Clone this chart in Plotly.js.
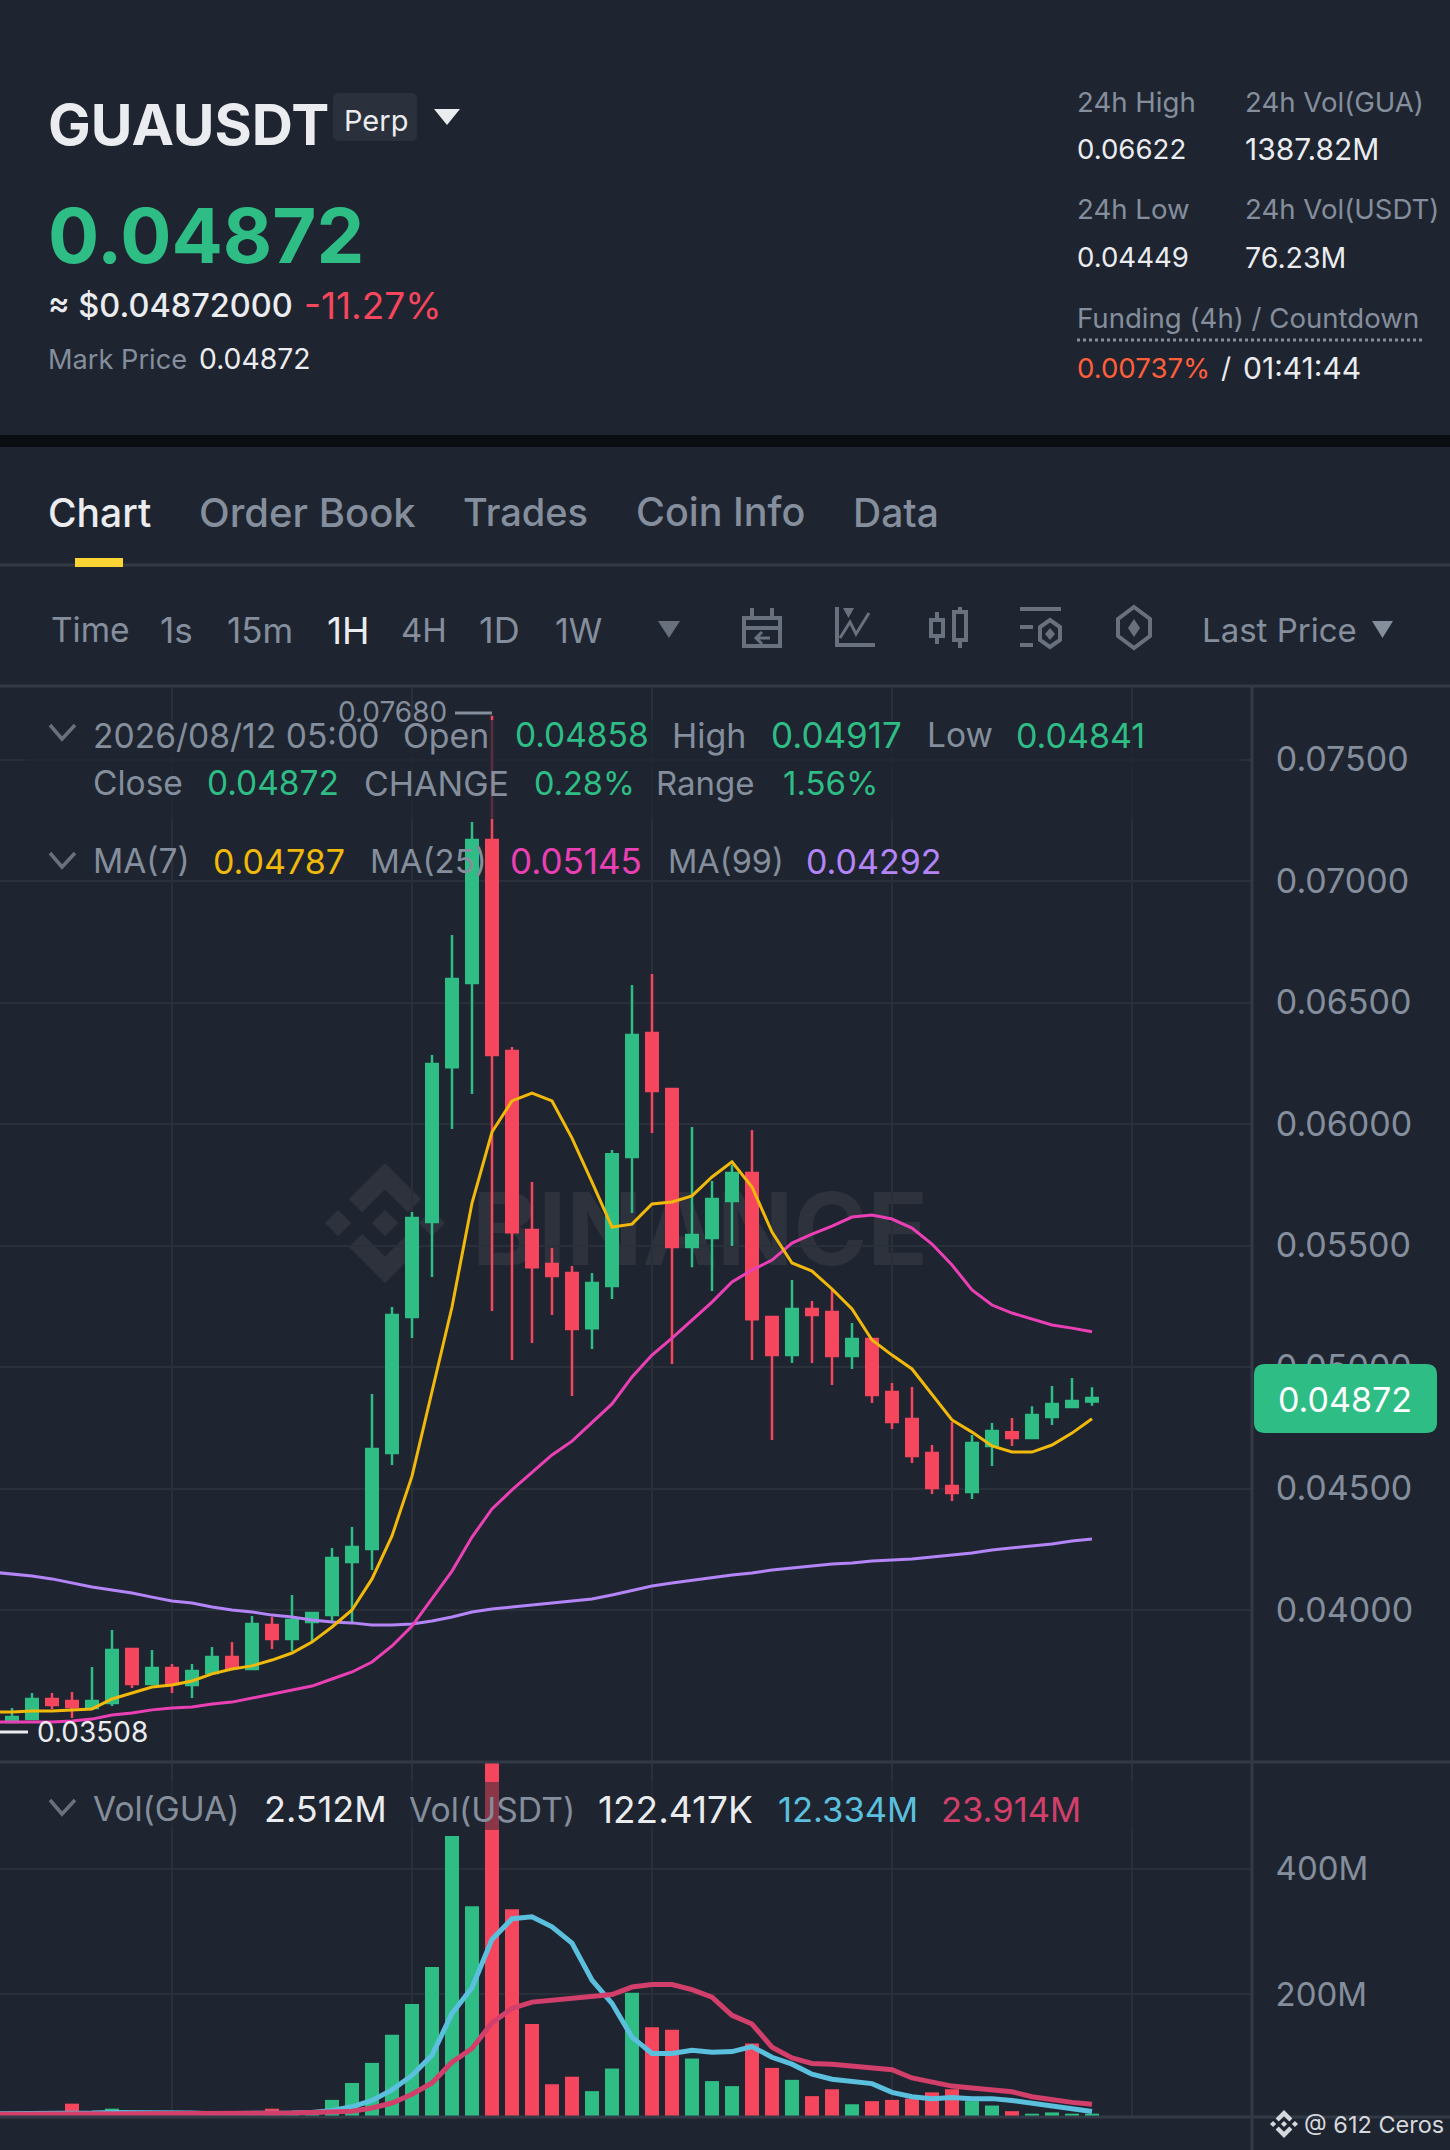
<!DOCTYPE html>
<html>
<head>
<meta charset="utf-8">
<script src="https://cdn.plot.ly/plotly-3.0.1.min.js"></script>
<style>html,body{margin:0;padding:0;background:#1f2530}#chart{width:1450px;height:2150px}</style>
</head>
<body>
<div id="chart"></div>
<script>
// ---------- DATA ----------
const candleIndex = [-1,0,1,2,3,4,5,6,7,8,9,10,11,12,13,14,15,16,17,18,19,20,21,22,23,24,25,26,27,28,29,30,31,32,33,34,35,36,37,38,39,40,41,42,43,44,45,46,47,48,49,50,51,52,53,54];
const openPrice = [.03540,.03539,.03551,.03634,.03626,.03597,.03617,.03840,.03695,.03761,.03691,.03741,.03807,.03757,.03938,.03881,.03951,.03979,.04198,.04251,.04646,.05206,.05597,.06234,.06580,.07169,.06300,.05564,.05424,.05387,.05160,.05333,.05864,.06374,.06144,.05494,.05531,.05683,.05798,.05206,.05049,.05239,.05226,.05045,.05115,.04897,.04786,.04646,.04510,.04486,.04675,.04732,.04708,.04794,.04835,.04858];
const closePrice = [.03545,.03560,.03634,.03609,.03601,.03626,.03835,.03695,.03761,.03695,.03749,.03807,.03761,.03942,.03881,.03959,.03988,.04214,.04259,.04663,.05214,.05613,.06247,.06597,.07169,.06284,.05555,.05411,.05374,.05156,.05346,.05876,.06366,.06136,.05494,.05543,.05691,.05798,.05197,.05049,.05239,.05214,.05045,.05115,.04885,.04774,.04634,.04502,.04481,.04687,.04737,.04708,.04802,.04848,.04860,.04872];
const highPrice = [.03570,.03597,.03658,.03658,.03663,.03765,.03918,.03844,.03835,.03778,.03778,.03848,.03868,.03975,.03971,.04062,.03992,.04255,.04342,.04889,.05247,.05638,.06284,.06778,.07243,.07680,.06317,.05761,.05490,.05416,.05387,.05893,.06572,.06617,.06144,.05988,.05765,.05831,.05975,.05206,.05358,.05272,.05317,.05181,.05115,.04934,.04918,.04679,.04774,.04720,.04770,.04790,.04839,.04922,.04955,.04917];
const lowPrice = [.03508,.03535,.03547,.03593,.03556,.03597,.03605,.03679,.03695,.03658,.03638,.03741,.03757,.03757,.03840,.03831,.03868,.03951,.03951,.04165,.04597,.05119,.05370,.05979,.06123,.05230,.05029,.05099,.05214,.04881,.05074,.05280,.05634,.05963,.05012,.05411,.05313,.05498,.05029,.04700,.05016,.05016,.04926,.04992,.04852,.04745,.04605,.04477,.04449,.04457,.04593,.04675,.04708,.04761,.04831,.04841];
const ma7 = [.03580,.03580,.03584,.03584,.03589,.03593,.03634,.03658,.03683,.03691,.03708,.03737,.03757,.03770,.03794,.03823,.03868,.03930,.04000,.04128,.04305,.04551,.04897,.05247,.05675,.05967,.06095,.06127,.06095,.05942,.05761,.05576,.05588,.05671,.05679,.05704,.05782,.05844,.05741,.05555,.05428,.05395,.05321,.05239,.05111,.05049,.04992,.04885,.04782,.04732,.04675,.04650,.04650,.04679,.04728,.04787];
const ma25 = [.03539,.03539,.03539,.03539,.03543,.03551,.03568,.03576,.03589,.03597,.03601,.03613,.03621,.03638,.03654,.03671,.03687,.03716,.03745,.03786,.03852,.03934,.04045,.04160,.04300,.04416,.04494,.04564,.04638,.04695,.04770,.04848,.04959,.05049,.05119,.05193,.05267,.05350,.05399,.05440,.05510,.05547,.05580,.05617,.05625,.05609,.05572,.05506,.05420,.05317,.05255,.05222,.05197,.05173,.05160,.05145];
const ma99 = [.04156,.04148,.04140,.04128,.04111,.04095,.04082,.04070,.04053,.04037,.04029,.04012,.04000,.03992,.03979,.03971,.03959,.03951,.03947,.03938,.03938,.03942,.03955,.03971,.03992,.04004,.04012,.04021,.04029,.04037,.04045,.04062,.04082,.04099,.04111,.04123,.04132,.04144,.04152,.04165,.04173,.04181,.04189,.04193,.04202,.04206,.04210,.04218,.04226,.04235,.04247,.04255,.04263,.04272,.04284,.04292];
const volumeM = [6,6,6,6,25,8,17,9,7,7,6,6,8,8,17,10,10,31,58,90,135,184,243,452,340,574,335,152,56,68,45,81,202,147,143,97,61,53,121,82,63,37,48,24,29,31,33,43,48,29,22,13,9,11,9,9];
const volMaBlueM = [9,9,9,9,10,10,11,11,10,10,10,9,9,10,10,10,11,14,20,30,47,70,102,169,210,287,320,323,307,281,222,185,131,105,105,110,107,108,116,99,88,72,64,60,57,43,36,33,35,33,33,30,26,22,18,12.334];
const volMaRedM = [8,8,8,8,9,9,9,9,9,9,8,8,8,8,9,10,11,12,13,18,26,40,58,91,113,154,177,187,190,194,196,199,211,215,215,207,195,166,152,115,98,89,88,85,83,79,66,60,53,50,47,44,36,31,27,23.914];
const priceTicks = [.04,.045,.05,.055,.06,.065,.07,.075];
const priceTickLabels = ['0.04000','0.04500','0.05000','0.05500','0.06000','0.06500','0.07000','0.07500'];
const volumeTicks = [200,400];
const volumeTickLabels = ['200M','400M'];

// ---------- STYLE ----------
const BG='#1f2530', GRID='#2a303a', SEP='#333a47', GREY='#848e9c', WHITE='#eaecef', GREEN='#2ebd85', RED='#f6465d', ICON='#69717e';
const FONT='Inter, "Noto Sans", sans-serif';
const W=1450,H=2150;
const fx=x=>x/W, fy=y=>1-y/H;
// convert a path written in page pixels to paper coordinates
const pp=s=>{let i=0;return s.replace(/-?\d+(\.\d+)?/g,n=>{const v=parseFloat(n);return (i++%2===0?fx(v):fy(v)).toFixed(6);});};
const annotations=[],shapes=[];
function T(text,x,y,size,color,opt={}){
  annotations.push({text,xref:'paper',yref:'paper',x:fx(x),y:fy(y),xanchor:opt.anchor||'left',yanchor:'middle',showarrow:false,
    font:{family:FONT,size,color,weight:opt.weight||400},borderpad:0,borderwidth:0});
}
function fillPath(d,color,layer='above'){shapes.push({type:'path',xref:'paper',yref:'paper',path:pp(d),fillcolor:color,line:{width:0},layer});}
function strokePath(d,color,w=4,fill='rgba(0,0,0,0)'){shapes.push({type:'path',xref:'paper',yref:'paper',path:pp(d),fillcolor:fill,line:{color,width:w},layer:'above'});}
function hline(y,x0=0,x1=W,color=SEP,w=3,dash='solid'){shapes.push({type:'line',xref:'paper',yref:'paper',x0:fx(x0),x1:fx(x1),y0:fy(y),y1:fy(y),line:{color,width:w,dash},layer:'above'});}
function rrect(x0,y0,x1,y1,r){return `M ${x0+r} ${y0} L ${x1-r} ${y0} Q ${x1} ${y0} ${x1} ${y0+r} L ${x1} ${y1-r} Q ${x1} ${y1} ${x1-r} ${y1} L ${x0+r} ${y1} Q ${x0} ${y1} ${x0} ${y1-r} L ${x0} ${y0+r} Q ${x0} ${y0} ${x0+r} ${y0} Z`;}
function tri(x0,x1,y0,y1,color){fillPath(`M ${x0} ${y0} L ${x1} ${y0} L ${(x0+x1)/2} ${y1} Z`,color);}
function rect(x0,y0,x1,y1,color,layer='above'){shapes.push({type:'rect',xref:'paper',yref:'paper',x0:fx(x0),x1:fx(x1),y0:fy(y0),y1:fy(y1),fillcolor:color,line:{width:0},layer});}
function logo(cx,cy,s,color,layer){
  const d=(x,y,r)=>fillPath(`M ${cx+x*s} ${cy+(y-r)*s} L ${cx+(x+r)*s} ${cy+y*s} L ${cx+x*s} ${cy+(y+r)*s} L ${cx+(x-r)*s} ${cy+y*s} Z`,color,layer);
  d(0,0,.22);d(-.78,0,.22);d(.78,0,.22);
  const chev=(sgn)=>fillPath(`M ${cx} ${cy+sgn*1*s} L ${cx+.6*s} ${cy+sgn*.4*s} L ${cx+.38*s} ${cy+sgn*.18*s} L ${cx} ${cy+sgn*.56*s} L ${cx-.38*s} ${cy+sgn*.18*s} L ${cx-.6*s} ${cy+sgn*.4*s} Z`,color,layer);
  chev(-1);chev(1);
}

// ---------- PANELS / CHROME ----------
rect(0,435,W,447,'#0b0e11');
hline(565);hline(686);hline(1762);hline(2117);
rect(75,558,123,567,'#fcd535');
shapes.push({type:'line',xref:'paper',yref:'paper',x0:fx(1252),x1:fx(1252),y0:fy(686),y1:fy(2150),line:{color:SEP,width:3},layer:'above'});

// watermark (under the candles)
logo(385,1223,60,'#2d323d','below');
shapes.push({type:'rect',xref:'paper',yref:'paper',x0:fx(470),x1:fx(930),y0:fy(1190),y1:fy(1260),fillcolor:'rgba(0,0,0,0)',line:{width:0},layer:'below',
  label:{text:'BINANCE',textposition:'middle center',font:{family:FONT,size:100,color:'#2d323d',weight:700}}});

// legend veils (candles show dimmed behind them)
rect(25,720,1240,819,'rgba(31,37,48,0.72)');
rect(25,1782,1240,1830,'rgba(31,37,48,0.5)');

// header
T('GUAUSDT',48,124,57,WHITE,{weight:700});
fillPath(rrect(333,93,417,141,6),'#2a303c');
T('Perp',344,120,29,WHITE);
tri(434,460,109,125,WHITE);
T('0.04872',48,235,76,GREEN,{weight:700});
T('≈ $0.04872000',48,306,32.5,WHITE,{weight:500});
T('-11.27%',304,306,37,RED);
T('Mark Price',48,359,27.2,GREY);
T('0.04872',199,359,28.3,WHITE);
T('24h High',1077,102,27.6,GREY);T('0.06622',1077,149,27.6,WHITE);
T('24h Low',1077,209,27.6,GREY);T('0.04449',1077,257,27.6,WHITE);
T('24h Vol(GUA)',1245,102,27.6,GREY);T('1387.82M',1245,149,30,WHITE);
T('24h Vol(USDT)',1245,209,27.6,GREY);T('76.23M',1245,257,28.5,WHITE);
T('Funding (4h) / Countdown',1077,318,27.6,GREY);
hline(340,1077,1423,GREY,3,'dot');
T('0.00737%',1077,368,27.6,'#ff5e3a');T('/',1221,368,28,WHITE);T('01:41:44',1243,368,30,WHITE);

// tabs
[['Chart',48,WHITE,39],['Order Book',199,GREY,40],['Trades',463,GREY,38],['Coin Info',636,GREY,39.5],['Data',853,GREY,39]].forEach(t=>T(t[0],t[1],512,t[3],t[2],{weight:500}));
// time frames
[['Time',51,GREY,33.5],['1s',160,GREY,35],['15m',227,GREY,35],['1H',327,WHITE,37],['4H',401,GREY,33],['1D',479,GREY,36],['1W',555,GREY,34],['Last Price',1202,GREY,33]].forEach(t=>T(t[0],t[1],630,t[3],t[2]));
tri(658,680,621,638,ICON);tri(1372,1393,621,638,GREY);
// toolbar icons
strokePath('M 744 618 L 780 618 L 780 646 L 744 646 Z',ICON);
strokePath('M 744 628 L 780 628',ICON);strokePath('M 752 608 L 752 618 M 772 608 L 772 618',ICON);
strokePath('M 770 638 L 756 638 M 762 632 L 756 638 L 762 644',ICON,3);
strokePath('M 837 607 L 837 645 L 875 645',ICON);
strokePath('M 840 638 L 850 622 L 856 634 L 869 613',ICON,3);
fillPath('M 843 608 L 854 608 L 848.5 618 Z',ICON);
strokePath('M 931 620 L 943 620 L 943 636 L 931 636 Z M 937 612 L 937 620 M 937 636 L 937 644',ICON);
strokePath('M 954 612 L 966 612 L 966 640 L 954 640 Z M 960 607 L 960 612 M 960 640 L 960 648',ICON);
strokePath('M 1020 609 L 1061 609 M 1020 627 L 1033 627 M 1020 645 L 1033 645',ICON);
strokePath('M 1050 620 L 1060 627 L 1060 640 L 1050 647 L 1040 640 L 1040 627 Z',ICON);
fillPath('M 1050 628 L 1055 634 L 1050 640 L 1045 634 Z',ICON);
strokePath('M 1134 607 L 1150 619 L 1150 636 L 1134 648 L 1118 636 L 1118 619 Z',ICON);
fillPath('M 1134 619 L 1140 628 L 1134 637 L 1128 628 Z',ICON);

// legends
const chevron=y=>strokePath(`M 50 ${y-8} L 62 ${y+6} L 75 ${y-8}`,ICON,3.5);
chevron(733);chevron(861);chevron(1808);
T('2026/08/12 05:00',93,735,33.6,GREY);T('Open',403,735,33.8,GREY);T('0.04858',515,735,33.5,GREEN);
T('High',672,735,34,GREY);T('0.04917',771,735,35,GREEN);T('Low',927,735,33.5,GREY);T('0.04841',1016,735,34,GREEN);
T('Close',93,783,33.5,GREY);T('0.04872',207,783,33.5,GREEN);T('CHANGE',364,783,34,GREY);T('0.28%',534,783,32.5,GREEN);
T('Range',656,783,33,GREY);T('1.56%',783,783,33,GREEN);
T('MA(7)',93,861,33.5,GREY);T('0.04787',213,861,34,'#f0b90b');T('MA(25)',370,861,33,GREY);T('0.05145',510,861,35,'#eb40b5');
T('MA(99)',668,861,32.5,GREY);T('0.04292',806,861,34,'#b385f8');
T('Vol(GUA)',93,1809,33.5,GREY);T('2.512M',264,1809,36,WHITE);T('Vol(USDT)',409,1809,33.7,GREY);T('122.417K',598,1809,37,WHITE);
T('12.334M',778,1809,34.5,'#5bc0de');T('23.914M',941,1809,34.5,'#d23f6b');

// high / low markers
T('0.07680',338,712,28,GREY);hline(713,455,492,GREY,3);
T('0.03508',37,1732,28,WHITE);hline(1732,0,28,WHITE,3);

// last price badge
fillPath(rrect(1254,1364,1437,1433,11),GREEN);
T('0.04872',1345,1399,34,'#ffffff',{anchor:'center'});

// attribution
logo(1284,2124,14,'#d5d8dd','above');
T('@ 612 Ceros',1304,2124,23.5,'#d5d8dd');

// ---------- TRACES ----------
const lineTrace=(y,color,width,xa,ya)=>({type:'scatter',mode:'lines',x:candleIndex,y,xaxis:xa,yaxis:ya,line:{color,width,shape:'linear'},hoverinfo:'skip',showlegend:false});
const data=[
 {type:'candlestick',x:candleIndex,open:openPrice,high:highPrice,low:lowPrice,close:closePrice,xaxis:'x',yaxis:'y',whiskerwidth:0,showlegend:false,hoverinfo:'skip',
  increasing:{line:{color:GREEN,width:2.5},fillcolor:GREEN},decreasing:{line:{color:RED,width:2.5},fillcolor:RED}},
 lineTrace(ma99,'#b385f8',3,'x','y'),
 lineTrace(ma25,'#eb40b5',3,'x','y'),
 lineTrace(ma7,'#f0b90b',3,'x','y'),
 {type:'bar',x:candleIndex,y:volumeM,xaxis:'x2',yaxis:'y2',width:.7,hoverinfo:'skip',showlegend:false,
  marker:{color:closePrice.map((c,i)=>c>=openPrice[i]?GREEN:RED),line:{width:0}}},
 lineTrace(volMaBlueM,'#5bc0de',5,'x2','y2'),
 lineTrace(volMaRedM,'#d23f6b',5,'x2','y2')
];
const xBase={range:[-.6,62],showticklabels:false,ticks:'',tick0:8,dtick:12,gridcolor:GRID,gridwidth:2,showgrid:true,zeroline:false,showline:false,fixedrange:true};
const yBase={side:'right',showgrid:true,gridcolor:GRID,gridwidth:2,zeroline:false,showline:false,ticks:'outside',ticklen:16,tickcolor:'rgba(0,0,0,0)',
  tickmode:'array',fixedrange:true};
const xDom=[0,1252/W];
const layout={width:W,height:H,margin:{l:0,r:0,t:0,b:0},paper_bgcolor:BG,plot_bgcolor:BG,showlegend:false,boxgap:.425,boxgroupgap:0,barmode:'overlay',
 xaxis:{...xBase,domain:xDom,rangeslider:{visible:false},anchor:'y'},
 xaxis2:{...xBase,domain:xDom,anchor:'y2'},
 yaxis:{...yBase,domain:[fy(1762),fy(686)],range:[.033745,.078025],tickvals:priceTicks,ticktext:priceTickLabels,anchor:'x',tickfont:{family:FONT,size:34,color:GREY}},
 yaxis2:{...yBase,domain:[fy(2117),fy(1762)],range:[3.7,570],tickvals:volumeTicks,ticktext:volumeTickLabels,anchor:'x2',tickfont:{family:FONT,size:33,color:GREY}},
 annotations,shapes};
Plotly.newPlot('chart',data,layout,{staticPlot:true,displayModeBar:false});
</script>
</body>
</html>
